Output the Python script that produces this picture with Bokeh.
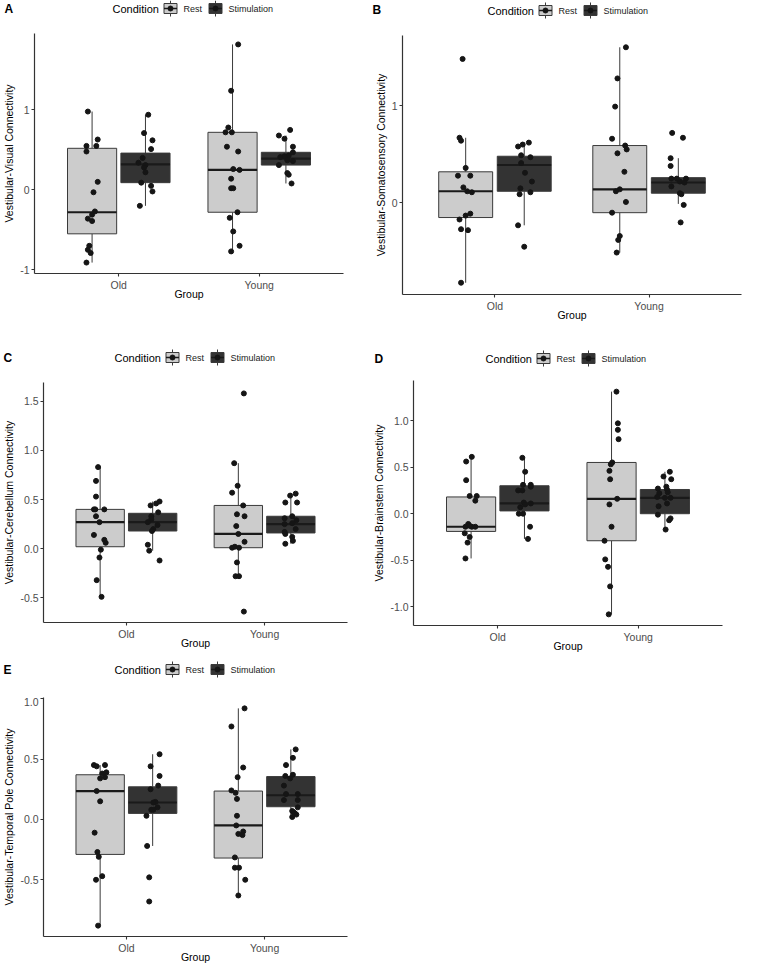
from bokeh.plotting import figure
from bokeh.layouts import row, column
from bokeh.models import Range1d, FixedTicker, PrintfTickFormatter
from bokeh.core.properties import value
from bokeh.embed import file_html
from bokeh.resources import INLINE

# ---------------- data ----------------
GROUPS = ["Old", "Young"]
CONDITIONS = ["Rest", "Stimulation"]

# Panel A : Vestibular-Visual
A_OLD_REST = [0.98, 0.55, 0.63, 0.48, 0.55, 0.10, -0.03, -0.27, -0.31, -0.36, -0.39, -0.70, -0.75, -0.79, -0.91]
A_OLD_REST_JIT = [-0.03, -0.04, 0.04, -0.04, 0.03, 0.04, 0.01, 0.02, 0.0, -0.03, 0.0, -0.02, -0.03, -0.01, -0.04]
A_OLD_STIM = [0.94, 0.71, 0.62, 0.51, 0.40, 0.34, 0.31, 0.28, 0.22, 0.09, 0.05, -0.02, -0.20]
A_OLD_STIM_JIT = [0.02, -0.01, 0.05, 0.04, -0.02, -0.05, 0.0, -0.01, 0.0, -0.03, 0.04, 0.05, -0.04]
A_YOUNG_REST = [1.82, 1.24, 0.78, 0.72, 0.72, 0.54, 0.48, 0.26, 0.25, 0.14, 0.02, 0.02, -0.28, -0.35, -0.52, -0.70, -0.77]
A_YOUNG_REST_JIT = [0.04, -0.01, -0.03, -0.05, -0.005, -0.04, 0.04, 0.005, 0.05, -0.01, -0.01, 0.005, 0.035, -0.02, 0.005, 0.05, -0.01]
A_YOUNG_STIM = [0.75, 0.68, 0.64, 0.54, 0.47, 0.43, 0.42, 0.41, 0.37, 0.36, 0.31, 0.21, 0.19, 0.08]
A_YOUNG_STIM_JIT = [0.03, -0.05, -0.01, 0.05, 0.05, 0.02, -0.01, -0.04, 0.01, 0.05, -0.05, 0.01, 0.02, 0.04]
# box stats, order: Old-Rest, Old-Stim, Young-Rest, Young-Stim
A_LO = [-0.91, -0.20, -0.77, 0.08]
A_Q1 = [-0.55, 0.09, -0.28, 0.31]
A_MED = [-0.28, 0.32, 0.25, 0.39]
A_Q3 = [0.52, 0.46, 0.72, 0.47]
A_HI = [0.98, 0.94, 1.82, 0.68]
A_TICKS = [-1, 0, 1]

# Panel B : Vestibular-Somatosensory
B_OLD_REST = [1.48, 0.67, 0.64, 0.36, 0.28, 0.28, 0.16, 0.12, 0.11, -0.11, -0.13, -0.17, -0.27, -0.28, -0.82]
B_OLD_REST_JIT = [-0.02, -0.04, -0.03, 0.0, -0.05, 0.03, -0.015, 0.01, 0.04, 0.03, 0.0, -0.04, -0.03, 0.015, -0.03]
B_OLD_STIM = [0.62, 0.60, 0.58, 0.49, 0.47, 0.41, 0.31, 0.22, 0.15, 0.11, 0.09, -0.23, -0.45]
B_OLD_STIM_JIT = [0.03, -0.01, -0.04, -0.02, 0.04, -0.02, 0.005, 0.05, -0.025, 0.04, -0.03, -0.04, 0.0]
B_YOUNG_REST = [1.60, 1.28, 0.99, 0.66, 0.59, 0.55, 0.51, 0.32, 0.14, 0.12, 0.01, -0.10, -0.34, -0.38, -0.51]
B_YOUNG_REST_JIT = [0.04, -0.015, -0.03, -0.05, 0.035, 0.045, -0.015, 0.03, 0.0, -0.025, 0.04, -0.05, 0.0, -0.01, -0.02]
B_YOUNG_STIM = [0.72, 0.67, 0.46, 0.38, 0.25, 0.25, 0.25, 0.22, 0.21, 0.17, 0.10, 0.09, -0.02, -0.20]
B_YOUNG_STIM_JIT = [-0.04, 0.03, -0.05, -0.05, -0.01, -0.045, 0.05, 0.01, 0.04, -0.045, 0.01, 0.02, 0.035, 0.015]
B_LO = [-0.82, -0.23, -0.51, -0.01]
B_Q1 = [-0.15, 0.12, -0.10, 0.10]
B_MED = [0.12, 0.39, 0.14, 0.21]
B_Q3 = [0.32, 0.48, 0.59, 0.26]
B_HI = [0.67, 0.62, 1.60, 0.46]
B_TICKS = [0, 1]

# Panel C : Vestibular-Cerebellum
C_OLD_REST = [0.83, 0.69, 0.53, 0.40, 0.40, 0.40, 0.33, 0.27, 0.14, 0.09, 0.06, -0.01, -0.09, -0.32, -0.49]
C_OLD_REST_JIT = [-0.015, -0.03, -0.03, -0.045, -0.035, 0.03, -0.03, -0.005, -0.045, 0.03, 0.04, 0.005, -0.005, -0.025, 0.01]
C_OLD_STIM = [0.48, 0.46, 0.44, 0.37, 0.33, 0.30, 0.27, 0.24, 0.20, 0.18, 0.04, -0.02, -0.12]
C_OLD_STIM_JIT = [0.05, 0.025, -0.015, 0.04, -0.01, -0.01, -0.035, 0.035, 0.005, -0.005, -0.035, -0.025, 0.05]
C_YOUNG_REST = [1.58, 0.87, 0.64, 0.57, 0.44, 0.35, 0.33, 0.23, 0.15, 0.07, 0.01, 0.02, 0.01, -0.14, -0.28, -0.28, -0.64]
C_YOUNG_REST_JIT = [0.04, -0.03, -0.005, -0.045, 0.035, -0.01, 0.045, -0.015, 0.0, 0.045, -0.045, -0.025, 0.005, -0.01, -0.02, 0.005, 0.04]
C_YOUNG_STIM = [0.56, 0.54, 0.47, 0.47, 0.33, 0.31, 0.29, 0.26, 0.25, 0.20, 0.17, 0.15, 0.12, 0.08, 0.05]
C_YOUNG_STIM_JIT = [0.035, -0.005, -0.04, 0.045, 0.01, -0.045, 0.04, 0.01, -0.045, 0.035, -0.045, -0.04, 0.01, 0.015, -0.04]
C_LO = [-0.49, -0.02, -0.28, 0.05]
C_Q1 = [0.02, 0.18, 0.01, 0.16]
C_MED = [0.27, 0.27, 0.15, 0.25]
C_Q3 = [0.40, 0.36, 0.44, 0.33]
C_HI = [0.83, 0.48, 0.87, 0.56]
C_TICKS = [-0.5, 0.0, 0.5, 1.0, 1.5]

# Panel D : Vestibular-Brainstem
D_OLD_REST = [0.61, 0.56, 0.36, 0.19, 0.19, 0.14, -0.11, -0.14, -0.14, -0.14, -0.13, -0.21, -0.25, -0.31, -0.48]
D_OLD_REST_JIT = [0.005, -0.035, -0.035, -0.01, 0.04, 0.03, -0.02, -0.04, 0.005, 0.03, -0.01, -0.045, -0.01, -0.025, -0.04]
D_OLD_STIM = [0.60, 0.45, 0.31, 0.31, 0.29, 0.25, 0.25, 0.12, 0.11, 0.10, 0.07, 0.0, 0.0, -0.14, -0.27]
D_OLD_STIM_JIT = [-0.015, 0.005, -0.01, 0.045, 0.045, -0.045, -0.015, -0.005, 0.045, 0.005, -0.03, -0.04, -0.01, 0.04, 0.025]
D_YOUNG_REST = [1.31, 0.97, 0.90, 0.80, 0.55, 0.53, 0.46, 0.37, 0.16, 0.10, -0.14, -0.29, -0.49, -0.57, -0.78, -1.08]
D_YOUNG_REST_JIT = [0.035, 0.045, 0.045, 0.05, 0.005, -0.005, -0.015, -0.01, 0.04, -0.015, 0.0, -0.05, -0.045, -0.025, -0.01, -0.02]
D_YOUNG_STIM = [0.45, 0.40, 0.37, 0.29, 0.27, 0.26, 0.23, 0.22, 0.18, 0.17, 0.17, 0.11, 0.08, -0.01, -0.05, -0.07, -0.17]
D_YOUNG_STIM_JIT = [0.035, -0.01, 0.045, 0.01, -0.05, 0.015, 0.02, -0.04, -0.055, 0.0, 0.04, 0.015, -0.045, -0.05, 0.04, 0.03, 0.005]
D_LO = [-0.48, -0.27, -1.08, -0.17]
D_Q1 = [-0.19, 0.03, -0.29, 0.0]
D_MED = [-0.14, 0.11, 0.16, 0.17]
D_Q3 = [0.18, 0.30, 0.55, 0.26]
D_HI = [0.61, 0.60, 1.31, 0.45]
D_TICKS = [-1.0, -0.5, 0.0, 0.5, 1.0]

# Panel E : Vestibular-Temporal Pole
E_OLD_REST = [0.45, 0.44, 0.45, 0.38, 0.39, 0.34, 0.35, 0.235, 0.15, -0.11, -0.27, -0.31, -0.47, -0.50, -0.88]
E_OLD_REST_JIT = [-0.045, -0.025, 0.035, 0.015, 0.045, 0.0, 0.035, -0.025, 0.0, -0.04, -0.02, -0.01, 0.015, -0.03, -0.015]
E_OLD_STIM = [0.54, 0.44, 0.36, 0.28, 0.25, 0.145, 0.14, 0.10, 0.08, 0.08, 0.03, -0.22, -0.48, -0.68]
E_OLD_STIM_JIT = [0.05, -0.015, 0.05, 0.04, -0.015, 0.02, 0.005, 0.035, -0.01, 0.005, -0.045, -0.04, -0.025, -0.025]
E_YOUNG_REST = [0.92, 0.77, 0.43, 0.35, 0.24, 0.22, 0.17, 0.03, -0.05, -0.12, -0.10, -0.13, -0.315, -0.40, -0.40, -0.50, -0.63]
E_YOUNG_REST_JIT = [0.045, -0.05, 0.035, -0.005, -0.05, -0.02, -0.01, -0.01, -0.015, 0.0, 0.035, 0.03, -0.025, -0.025, 0.005, 0.05, 0.0]
E_YOUNG_STIM = [0.58, 0.51, 0.45, 0.37, 0.36, 0.34, 0.28, 0.21, 0.21, 0.16, 0.16, 0.10, 0.07, 0.06, 0.05, 0.04, 0.02]
E_YOUNG_STIM_JIT = [0.035, 0.015, -0.035, 0.015, -0.04, -0.005, -0.05, -0.035, 0.05, -0.05, 0.05, 0.05, 0.01, 0.02, 0.03, 0.04, 0.01]
E_LO = [-0.88, -0.22, -0.63, 0.02]
E_Q1 = [-0.29, 0.05, -0.32, 0.105]
E_MED = [0.235, 0.14, -0.05, 0.20]
E_Q3 = [0.37, 0.27, 0.235, 0.355]
E_HI = [0.45, 0.54, 0.92, 0.58]
E_TICKS = [-0.5, 0.0, 0.5, 1.0]

# ---------------- style / layout ----------------
FONT = "Liberation Sans"
REST_FILL = "#CCCCCC"
STIM_FILL = "#333333"
BOX_LINE = "#3A3A3A"
MED_LINE = "#1A1A1A"
POINT_COL = "#151515"
AXIS_COL = "#333333"
TICK_LABEL_COL = "#4D4D4D"
DODGE = 0.19
BOX_W = 0.35

# page geometry (pixels): figure x, header top, width, frame top (= axis top),
# frame left, frame right, frame bottom, bottom border, legend left, legend y, letter x, letter y
GEOM = {
    "A": (0, 0, 370, 33, 34, 343, 273, 34, 112, 8, 4, 8),
    "B": (370, 0, 385, 35, 402, 741, 294, 32, 487, 10, 372, 9),
    "C": (0, 307, 370, 382, 42, 347, 622, 34, 114, 357, 3, 357),
    "D": (370, 326, 385, 380, 412, 722, 625, 35, 485, 358, 374, 358),
    "E": (0, 656, 370, 697, 42, 347, 936, 30, 114, 669, 3, 669),
}


def no_align(fig):
    if "frame_align" in fig.properties():
        fig.frame_align = False
    return fig


def build_header(letter):
    figx, htop, W, ft, fl, fr, fb, bb, leg_left, leg_y, let_x, let_y = GEOM[letter]
    hh = ft - htop
    h = figure(width=W, height=hh, x_range=Range1d(0, W), y_range=Range1d(hh, 0),
               output_backend="svg", toolbar_location=None, min_border=0,
               min_border_left=0, min_border_right=0, min_border_top=0, min_border_bottom=0,
               x_axis_location=None, y_axis_location=None)
    no_align(h)
    h.outline_line_color = None
    h.grid.visible = False
    ly = leg_y - htop
    lx = leg_left - figx
    h.text(x=[let_x - figx], y=[let_y - htop], text=[letter], text_font=value(FONT),
           text_font_size="12px", text_font_style="bold", text_baseline="middle",
           text_align="left", text_color="#000000")
    h.text(x=[lx], y=[ly], text=["Condition"], text_font=value(FONT),
           text_font_size="11px", text_baseline="middle", text_align="left",
           text_color="#000000")
    for kx_off, lab_off, lab, fill in ((58, 71, CONDITIONS[0], REST_FILL),
                                       (103, 116, CONDITIONS[1], STIM_FILL)):
        kx = lx + kx_off
        h.segment(x0=[kx], y0=[ly - 8], x1=[kx], y1=[ly + 8], line_color=BOX_LINE, line_width=1)
        h.rect(x=[kx], y=[ly], width=13, height=10, fill_color=fill,
               line_color=BOX_LINE, line_width=1)
        h.segment(x0=[kx - 6.5], y0=[ly], x1=[kx + 6.5], y1=[ly],
                  line_color=MED_LINE, line_width=1.5)
        h.scatter(x=[kx], y=[ly], size=5, fill_color=POINT_COL, line_color=POINT_COL)
        h.text(x=[lx + lab_off], y=[ly], text=[lab], text_font=value(FONT),
               text_font_size="9px", text_baseline="middle", text_align="left",
               text_color="#1A1A1A")
    return h


def build_main(letter, ylabel, lo, q1, med, q3, hi, pts, jits, ticks, fmt):
    figx, htop, W, ft, fl, fr, fb, bb, leg_left, leg_y, let_x, let_y = GEOM[letter]
    x0, x1 = 0.4, 2.6
    allv = [v for s in pts for v in s]
    vmin, vmax = min(allv), max(allv)
    span = vmax - vmin
    ylo, yhi = vmin - 0.05 * span, vmax + 0.05 * span

    p = figure(width=W, height=fb - ft + bb, x_range=Range1d(x0, x1), y_range=Range1d(ylo, yhi),
               output_backend="svg", toolbar_location=None,
               min_border_left=fl - figx, min_border_right=figx + W - fr,
               min_border_top=0, min_border_bottom=bb)
    no_align(p)
    p.outline_line_color = None
    p.xgrid.visible = False
    p.ygrid.visible = False

    for ax in (p.xaxis[0], p.yaxis[0]):
        ax.axis_line_color = AXIS_COL
        ax.axis_line_width = 1.2
        ax.major_tick_line_color = AXIS_COL
        ax.major_tick_line_width = 1.1
        ax.major_tick_in = 0
        ax.major_tick_out = 3
        ax.minor_tick_line_color = None
        ax.major_label_text_font = FONT
        ax.major_label_text_font_size = "10.5px"
        ax.major_label_text_color = TICK_LABEL_COL
        ax.major_label_standoff = 2
        ax.axis_label_text_font = FONT
        ax.axis_label_text_font_size = "10.5px"
        ax.axis_label_text_font_style = "normal"
        ax.axis_label_text_color = "#000000"
    xa = p.xaxis[0]
    xa.ticker = FixedTicker(ticks=[1, 2])
    xa.major_label_overrides = {1: GROUPS[0], 2: GROUPS[1]}
    xa.axis_label = "Group"
    xa.axis_label_standoff = -6
    ya = p.yaxis[0]
    ya.ticker = FixedTicker(ticks=ticks)
    ya.formatter = PrintfTickFormatter(format=fmt)
    ya.axis_label = ylabel
    ya.axis_label_standoff = 2

    centers = []
    for g in (1, 2):
        centers += [g - DODGE, g + DODGE]
    fills = [REST_FILL, STIM_FILL, REST_FILL, STIM_FILL]

    p.segment(x0=centers, y0=lo, x1=centers, y1=q1, line_color=BOX_LINE, line_width=1)
    p.segment(x0=centers, y0=q3, x1=centers, y1=hi, line_color=BOX_LINE, line_width=1)
    p.vbar(x=centers, width=BOX_W, bottom=q1, top=q3, fill_color=fills,
           line_color=BOX_LINE, line_width=1)
    p.segment(x0=[c - BOX_W / 2 for c in centers], y0=med,
              x1=[c + BOX_W / 2 for c in centers], y1=med,
              line_color=MED_LINE, line_width=2.2)

    xs, ys = [], []
    for k in range(4):
        xs += [centers[k] + j for j in jits[k]]
        ys += list(pts[k])
    p.scatter(x=xs, y=ys, size=5, fill_color=POINT_COL, line_color=POINT_COL)
    return p


def build_panel(letter, ylabel, lo, q1, med, q3, hi, pts, jits, ticks, fmt):
    return [build_header(letter),
            build_main(letter, ylabel, lo, q1, med, q3, hi, pts, jits, ticks, fmt)]


pA = build_panel("A", "Vestibular-Visual Connectivity", A_LO, A_Q1, A_MED, A_Q3, A_HI,
                 [A_OLD_REST, A_OLD_STIM, A_YOUNG_REST, A_YOUNG_STIM],
                 [A_OLD_REST_JIT, A_OLD_STIM_JIT, A_YOUNG_REST_JIT, A_YOUNG_STIM_JIT],
                 A_TICKS, "%.0f")
pB = build_panel("B", "Vestibular-Somatosensory Connectivity", B_LO, B_Q1, B_MED, B_Q3, B_HI,
                 [B_OLD_REST, B_OLD_STIM, B_YOUNG_REST, B_YOUNG_STIM],
                 [B_OLD_REST_JIT, B_OLD_STIM_JIT, B_YOUNG_REST_JIT, B_YOUNG_STIM_JIT],
                 B_TICKS, "%.0f")
pC = build_panel("C", "Vestibular-Cerebellum Connectivity", C_LO, C_Q1, C_MED, C_Q3, C_HI,
                 [C_OLD_REST, C_OLD_STIM, C_YOUNG_REST, C_YOUNG_STIM],
                 [C_OLD_REST_JIT, C_OLD_STIM_JIT, C_YOUNG_REST_JIT, C_YOUNG_STIM_JIT],
                 C_TICKS, "%.1f")
pD = build_panel("D", "Vestibular-Brainstem Connectivity", D_LO, D_Q1, D_MED, D_Q3, D_HI,
                 [D_OLD_REST, D_OLD_STIM, D_YOUNG_REST, D_YOUNG_STIM],
                 [D_OLD_REST_JIT, D_OLD_STIM_JIT, D_YOUNG_REST_JIT, D_YOUNG_STIM_JIT],
                 D_TICKS, "%.1f")
pE = build_panel("E", "Vestibular-Temporal Pole Connectivity", E_LO, E_Q1, E_MED, E_Q3, E_HI,
                 [E_OLD_REST, E_OLD_STIM, E_YOUNG_REST, E_YOUNG_STIM],
                 [E_OLD_REST_JIT, E_OLD_STIM_JIT, E_YOUNG_REST_JIT, E_YOUNG_STIM_JIT],
                 E_TICKS, "%.1f")

layout = row(column(*pA, *pC, *pE), column(*pB, *pD))
open("out.html", "w").write(file_html(layout, INLINE))
